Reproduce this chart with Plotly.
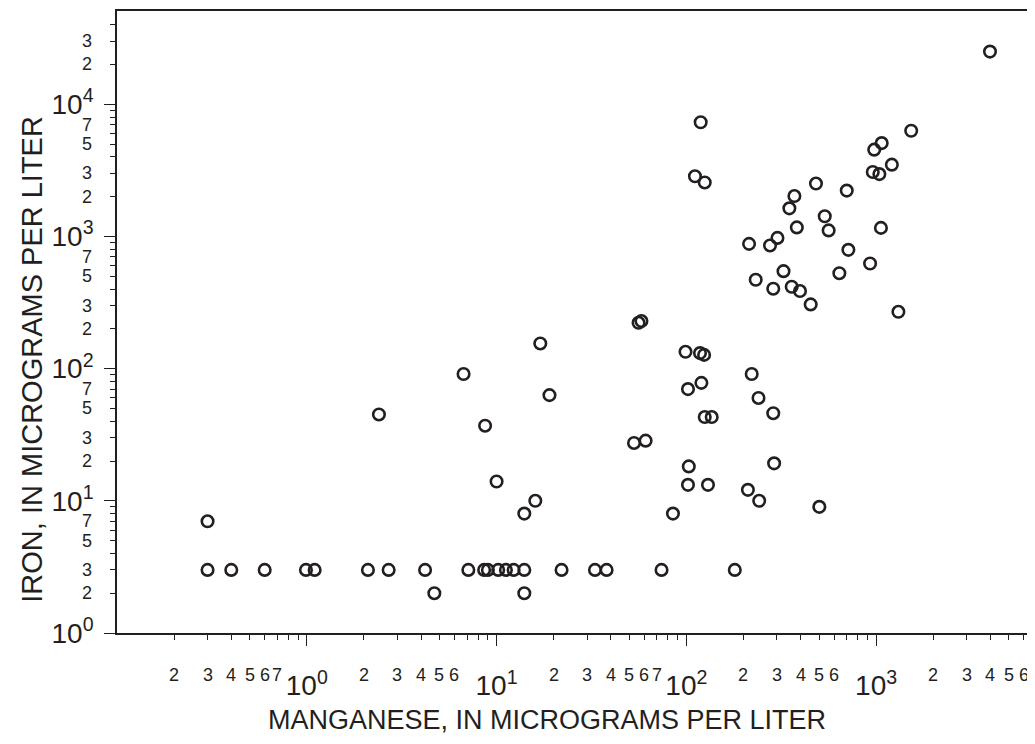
import numpy as np
import plotly.graph_objects as go

# Manganese (x) and iron (y), micrograms per liter
manganese = [0.3, 0.4, 0.6, 0.99, 1.1, 2.1, 2.7, 4.2, 7.1, 8.6, 9.0, 10.2, 11.2, 12.3, 14, 22, 33, 38, 74, 180,
             4.7, 14, 0.3,
             17, 6.7, 19, 2.4, 8.7, 10, 16, 14,
             119, 111, 125, 56, 58, 99, 118, 124, 221, 120, 102,
             240, 287, 125, 136, 53, 61, 103, 290, 102, 130, 211, 242, 85, 502,
             1530, 1070, 977, 1210, 960, 1040, 482, 700, 371, 349, 536, 382, 562, 1060, 302, 276, 214, 714,
             929, 325, 640, 232, 287, 359, 397, 452, 1310,
             3980]
iron = [3, 3, 3, 3, 3, 3, 3, 3, 3, 3, 3, 3, 3, 3, 3, 3, 3, 3, 3, 3,
        2, 2, 7,
        155, 91, 63, 45, 37, 14, 10, 8,
        7300, 2850, 2560, 222, 229, 134, 131, 127, 91, 78, 70,
        60, 46, 43, 43, 27.4, 28.5, 18.2, 19.2, 13.2, 13.2, 12.1, 10, 8, 9,
        6300, 5080, 4530, 3490, 3070, 2960, 2510, 2220, 2020, 1630, 1420, 1170, 1110, 1160, 974, 854, 878, 791,
        624, 546, 527, 470, 402, 416, 386, 306, 269,
        25000]

x_major = [1, 10, 100, 1000]
x_major_text = ["10<sup>0</sup>", "10<sup>1</sup>", "10<sup>2</sup>", "10<sup>3</sup>"]
x_minor_labels = [0.2, 0.3, 0.4, 0.5, 0.6, 0.7,
                  2, 3, 4, 5, 6,
                  20, 30, 40, 50, 60, 70,
                  200, 300, 400, 500, 600,
                  2000, 3000, 4000, 5000, 6000]
y_major = [1, 10, 100, 1000, 10000]
y_major_text = ["10<sup>0</sup>", "10<sup>1</sup>", "10<sup>2</sup>", "10<sup>3</sup>", "10<sup>4</sup>"]
y_minor_labels = [2, 3, 5, 7, 20, 30, 50, 70, 200, 300, 500, 700, 2000, 3000, 5000, 7000, 20000, 30000]

ink = "#231f20"
fam = "Liberation Sans, Arial, Helvetica, sans-serif"

x_minor_ticks = [m * 10.0 ** e for e in range(-1, 4) for m in range(2, 10) if m * 10.0 ** e < 6400]
y_minor_ticks = [m * 10.0 ** e for e in range(0, 5) for m in range(2, 10) if m * 10.0 ** e < 50000]

fig = go.Figure(go.Scatter(
    x=manganese, y=iron, mode="markers",
    marker=dict(symbol="circle", size=11.5, color="rgba(0,0,0,0)",
                line=dict(color=ink, width=2.6)),
    hoverinfo="x+y", showlegend=False))

fig.update_xaxes(
    type="log", range=[-1.0, 3.816],
    tickvals=x_major, ticktext=x_major_text,
    ticks="outside", ticklen=11, tickwidth=1, tickcolor=ink,
    tickfont=dict(family=fam, size=28, color=ink), ticklabelstandoff=16,
    showline=True, linecolor=ink, linewidth=1.6, mirror=True,
    showgrid=False, zeroline=False,
    minor=dict(tickvals=x_minor_ticks, ticks="outside", ticklen=5, tickwidth=1,
               tickcolor=ink, showgrid=False))
fig.update_yaxes(
    type="log", range=[0, 4.705],
    tickvals=y_major, ticktext=y_major_text,
    ticks="outside", ticklen=11, tickwidth=1, tickcolor=ink,
    tickfont=dict(family=fam, size=28, color=ink), ticklabelstandoff=5,
    showline=True, linecolor=ink, linewidth=1.6, mirror=True,
    showgrid=False, zeroline=False,
    minor=dict(tickvals=y_minor_ticks, ticks="outside", ticklen=5, tickwidth=1,
               tickcolor=ink, showgrid=False))

annotations = []
for v in x_minor_labels:
    digit = int(round(v / 10 ** np.floor(np.log10(v))))
    annotations.append(dict(x=np.log10(v), xref="x", y=-0.068, yref="paper",
                            text=str(digit), showarrow=False, xanchor="center", yanchor="middle",
                            font=dict(family=fam, size=18, color=ink)))
for v in y_minor_labels:
    digit = int(round(v / 10 ** np.floor(np.log10(v))))
    annotations.append(dict(x=-0.025, xref="paper", y=np.log10(v), yref="y",
                            text=str(digit), showarrow=False, xanchor="right", yanchor="middle",
                            font=dict(family=fam, size=18, color=ink)))
annotations.append(dict(x=0.4705, xref="paper", y=-0.14, yref="paper",
                        text="MANGANESE, IN MICROGRAMS PER LITER", showarrow=False,
                        xanchor="center", yanchor="middle",
                        font=dict(family=fam, size=27, color=ink)))
annotations.append(dict(x=-0.093, xref="paper", y=0.441, yref="paper",
                        text="IRON, IN MICROGRAMS PER LITER", showarrow=False, textangle=-90,
                        xanchor="center", yanchor="middle",
                        font=dict(family=fam, size=29, color=ink)))

# The page body adds an 8px offset, so the figure is sized to fit the window.
fig.update_layout(
    width=1027, height=736,
    margin=dict(l=109, r=4, t=1, b=111),
    paper_bgcolor="white", plot_bgcolor="white",
    annotations=annotations,
)

fig.write_html("out.html")
